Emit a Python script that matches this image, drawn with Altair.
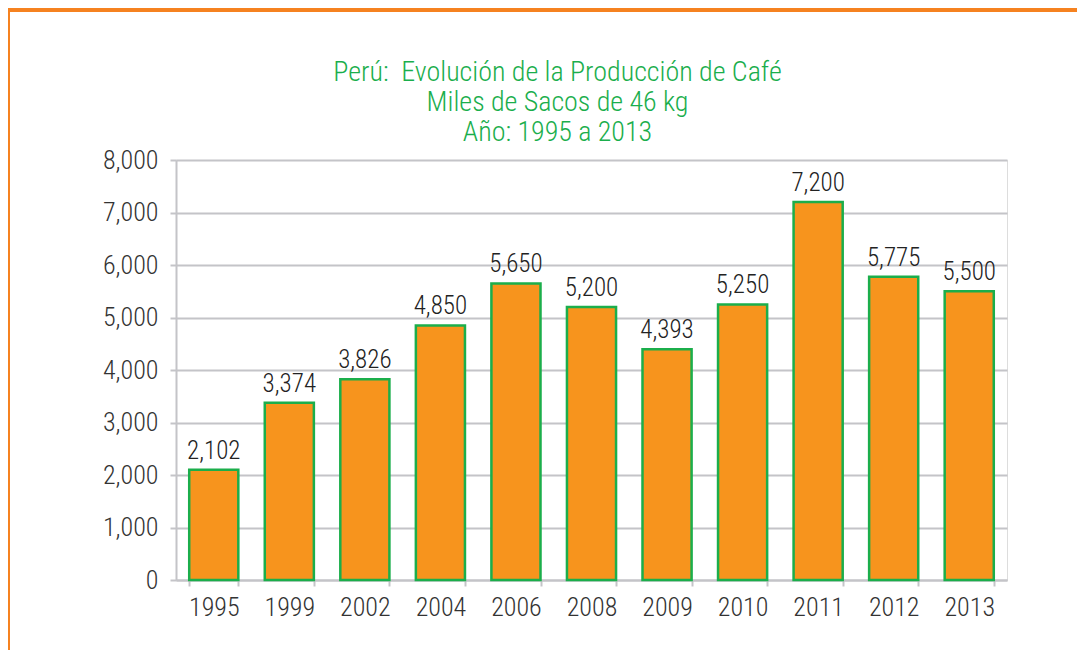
import altair as alt
import pandas as pd

years = ["1995", "1999", "2002", "2004", "2006", "2008", "2009", "2010", "2011", "2012", "2013"]
values = [2102, 3374, 3826, 4850, 5650, 5200, 4393, 5250, 7200, 5775, 5500]
title_lines = ["Perú:\u00a0 Evolución de la Producción de Café", "Miles de Sacos de 46 kg", "Año: 1995 a 2013"]

df = pd.DataFrame({"year": years, "value": values})

FONT = "Roboto Condensed, DejaVu Sans Condensed, Liberation Sans Narrow, Roboto, sans-serif"

x_enc = alt.X("year:N", sort=years, title=None,
              scale=alt.Scale(paddingInner=0.35, paddingOuter=0.175),
              axis=alt.Axis(labelAngle=0, labelFontSize=26, labelColor="#333333",
                            labelFont=FONT, labelFontWeight=300, labelPadding=8, tickBand="extent",
                            tickSize=6, tickColor="#c4c4c8", tickWidth=2,
                            domainColor="#c4c4c8", domainWidth=2, grid=False))
y_enc = alt.Y("value:Q", title=None,
              scale=alt.Scale(domain=[0, 8000]),
              axis=alt.Axis(values=list(range(0, 8001, 1000)), format=",.0f",
                            labelFontSize=26, labelColor="#333333", labelFont=FONT,
                            labelFontWeight=300,
                            labelPadding=12, tickSize=6, tickColor="#c4c4c8", tickWidth=2,
                            domainColor="#c4c4c8", domainWidth=2,
                            gridColor="#c4c4c8", gridWidth=2))

bars = alt.Chart(df).mark_bar(color="#F7941D", stroke="#1BAE4B", strokeWidth=2.5).encode(
    x=x_enc, y=y_enc)

labels = alt.Chart(df).mark_text(baseline="bottom", dy=-6, fontSize=25, fontWeight=300,
                                 font=FONT, color="#222222").encode(
    x=alt.X("year:N", sort=years), y="value:Q", text=alt.Text("value:Q", format=",.0f"))

border_top = alt.Chart(df).mark_rule(color="#F58220", strokeWidth=3).encode(
    x=alt.value(-170), x2=alt.value(1000), y=alt.value(-150))
border_left = alt.Chart(df).mark_rule(color="#F58220", strokeWidth=3).encode(
    x=alt.value(-168), y=alt.value(-151.5), y2=alt.value(520))

chart = alt.layer(bars, labels, border_top, border_left).properties(
    width=831, height=420,
    autosize=alt.AutoSizeParams(type="none"),
    padding={"left": 168, "top": 152, "right": 70, "bottom": 70},
    title=alt.TitleParams(text=title_lines, color="#1AAE4C", fontSize=28, font=FONT,
                          fontWeight=300, anchor="middle", dx=-34, offset=-140,
                          lineHeight=30),
).configure_view(stroke=None).configure(background="white")

chart.save("out.html", embed_options={"renderer": "svg", "actions": False})
